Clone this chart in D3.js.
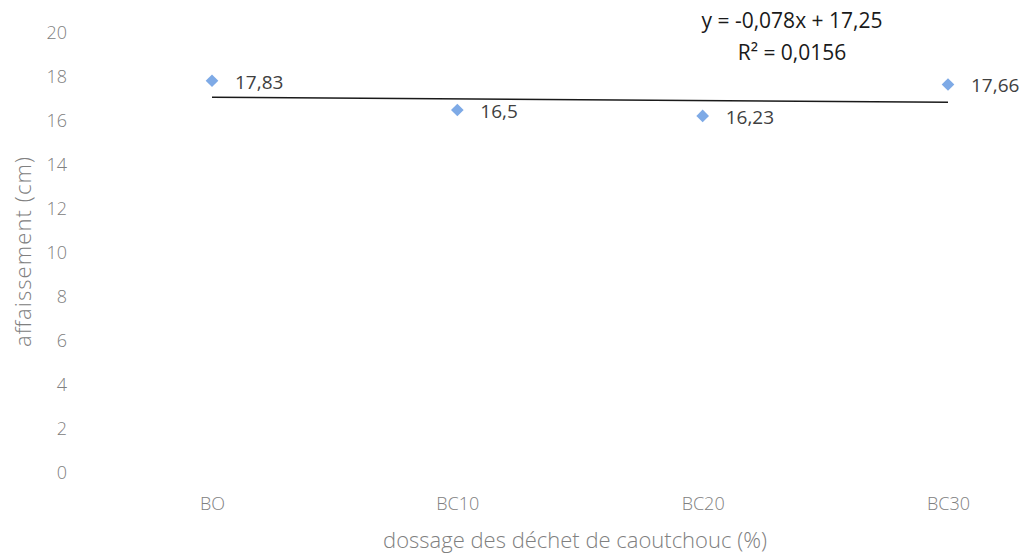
<!DOCTYPE html>
<html><head><meta charset="utf-8">
<script src="https://cdn.jsdelivr.net/npm/d3@7"></script>
<style>body{margin:0;background:#fff;} text{font-family:"Open Sans","Liberation Sans",sans-serif;}</style>
</head><body>
<svg id="c" width="1022" height="556"></svg>
<script>
const categories = ["BO","BC10","BC20","BC30"];
const values = [17.83, 16.5, 16.23, 17.66];
const valueLabels = ["17,83","16,5","16,23","17,66"];
const yTicks = [0,2,4,6,8,10,12,14,16,18,20];
const trendSlope = -0.078, trendIntercept = 17.25;
const eqLines = ["y = -0,078x + 17,25", "R² = 0,0156"];

const svg = d3.select("#c");
const x = d3.scalePoint().domain(categories).range([212, 948]);
const y = d3.scaleLinear().domain([0,20]).range([473, 33]);

const axisFont = "'Open Sans',sans-serif";
// y axis labels
const yAxis = d3.axisLeft(y).tickValues(yTicks).tickSize(0).tickPadding(0);
const gy = svg.append("g").attr("transform","translate(67,0)").call(yAxis);
gy.select(".domain").remove();
gy.selectAll("text").attr("fill","#808080").style("font-size","18px").style("font-family",axisFont).style("font-weight","300");

// x axis labels
const xAxis = d3.axisBottom(x).tickSize(0).tickPadding(0);
const gx = svg.append("g").attr("transform","translate(0,497)").call(xAxis);
gx.select(".domain").remove();
gx.selectAll("text").attr("fill","#808080").style("font-size","18px").style("font-family",axisFont).style("font-weight","300");

// axis titles
svg.append("text").attr("transform","translate(31,252) rotate(-90)").attr("text-anchor","middle")
  .attr("fill","#808080").style("font-size","22px").style("font-weight","300")
  .attr("textLength",190).attr("lengthAdjust","spacing").text("affaissement (cm)");
svg.append("text").attr("x",575).attr("y",548).attr("text-anchor","middle")
  .attr("fill","#808080").style("font-size","22px").style("font-weight","300").text("dossage des déchet de caoutchouc (%)");

// trend line
const xi = categories.map((c,i)=>i+1);
svg.append("line")
  .attr("x1", x(categories[0])).attr("x2", x(categories[categories.length-1]))
  .attr("y1", y(trendSlope*xi[0]+trendIntercept)+2)
  .attr("y2", y(trendSlope*xi[xi.length-1]+trendIntercept)+2)
  .attr("stroke","#1a1a1a").attr("stroke-width",1.5);

// points
svg.selectAll("path.pt").data(values).enter().append("path")
  .attr("class","pt")
  .attr("d", d3.symbol().type(d3.symbolSquare).size(80))
  .attr("transform",(d,i)=>`translate(${x(categories[i])},${y(d)}) rotate(45)`)
  .attr("fill","#7eaae6");

// data labels
svg.selectAll("text.lbl").data(values).enter().append("text")
  .attr("class","lbl")
  .attr("x",(d,i)=>x(categories[i])+23)
  .attr("y",(d,i)=>y(d)+8)
  .attr("fill","#404040").style("font-size","19px")
  .text((d,i)=>valueLabels[i]);

// equation
svg.selectAll("text.eq").data(eqLines).enter().append("text")
  .attr("class","eq").attr("x",792).attr("y",(d,i)=>28+i*32)
  .attr("text-anchor","middle").attr("fill","#1a1a1a").style("font-size","21px")
  .text(d=>d);
</script>
</body></html>
